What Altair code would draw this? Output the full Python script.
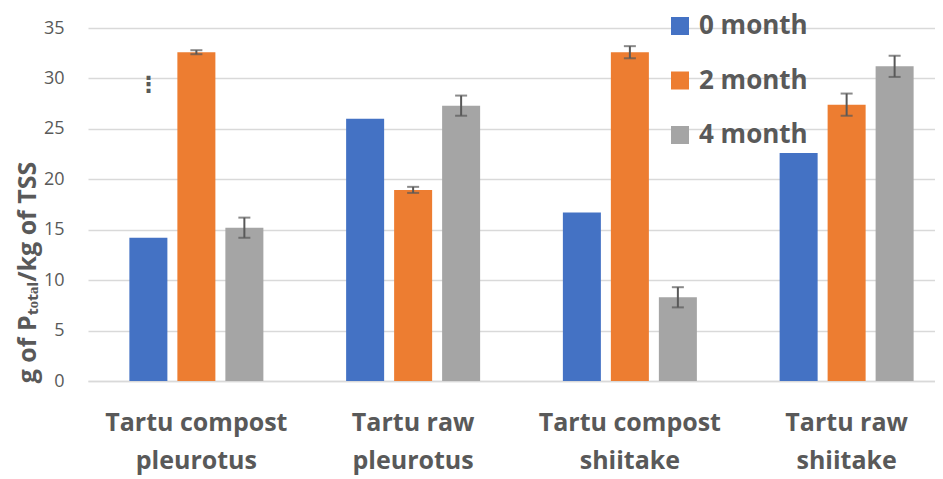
import altair as alt
import pandas as pd

categories = ["Tartu compost\npleurotus", "Tartu raw\npleurotus",
              "Tartu compost\nshiitake", "Tartu raw\nshiitake"]
series = ["0 month", "2 month", "4 month"]
colors = ["#4472C4", "#ED7D31", "#A5A5A5"]
values_0 = [14.2, 26.0, 16.7, 22.6]
values_2 = [32.6, 18.95, 32.6, 27.4]
values_4 = [15.2, 27.3, 8.3, 31.2]
err_0 = [0.0, 0.0, 0.0, 0.0]
err_2 = [0.2, 0.3, 0.6, 1.1]
err_4 = [1.0, 1.0, 1.0, 1.05]
y_ticks = [0, 5, 10, 15, 20, 25, 30, 35]
note_category = [categories[0]]
note_series = ["0 month"]
note_value = [29.3]
note_text = ["\u22ee"]

rows = []
for s, vals, errs in zip(series, [values_0, values_2, values_4], [err_0, err_2, err_4]):
    for c, v, e in zip(categories, vals, errs):
        rows.append({"category": c, "series": s, "value": v, "err": e,
                     "low": v - e, "high": v + e})
df = pd.DataFrame(rows)
note_df = pd.DataFrame({"category": note_category, "series": note_series,
                        "value": note_value, "text": note_text})

grey = "#595959"
FONT = "Open Sans"
x_enc = alt.X("category:N", sort=categories,
              scale=alt.Scale(paddingInner=0, paddingOuter=0, range=[0, 867]),
              axis=alt.Axis(title=None, labelAngle=0, ticks=False,
                            labelExpr="split(datum.label, '\\n')",
                            labelFont=FONT, labelLimit=400,
                            labelFontSize=25, labelFontWeight="bold", labelColor=grey,
                            labelLineHeight=38, labelPadding=29,
                            domainColor="#d9d9d9", domainWidth=1.5, grid=False))
xo_enc = alt.XOffset("series:N", sort=series,
                     scale=alt.Scale(paddingInner=0.208, paddingOuter=0.862))
y_scale = alt.Scale(domain=[0, 35], nice=False)

bars = alt.Chart(df).mark_bar().encode(
    x=x_enc, xOffset=xo_enc,
    y=alt.Y("value:Q", scale=y_scale,
            axis=alt.Axis(values=y_ticks, title="g of P\u209c\u2092\u209c\u2090\u2097/kg of TSS",
                          ticks=False, domain=False, labelPadding=24,
                          labelFont=FONT, labelFontSize=18, labelColor=grey,
                          gridColor="#d9d9d9", gridWidth=1.5,
                          titleFont=FONT,
                          titleFontSize=25, titleFontWeight="bold", titleColor=grey,
                          titleAngle=270, titleX=-61, titleY=244,
                          titleAlign="center", titleBaseline="middle")),
    color=alt.Color("series:N", sort=series,
                    scale=alt.Scale(domain=series, range=colors),
                    legend=alt.Legend(title=None, orient="none", legendX=579, legendY=-15,
                                      symbolType="square", symbolSize=324,
                                      symbolStrokeWidth=0, symbolOpacity=1,
                                      labelFont=FONT,
                                      labelFontSize=26, labelFontWeight="bold",
                                      labelColor=grey, labelOffset=6,
                                      rowPadding=28.5, padding=0)),
)

eb = alt.Chart(df).transform_filter("datum.err > 0")
rule = eb.mark_rule(color=grey, strokeWidth=2).encode(
    x=x_enc, xOffset=xo_enc, y=alt.Y("low:Q", scale=y_scale), y2="high:Q")
cap_lo = eb.mark_tick(color=grey, size=12, thickness=2, orient="horizontal").encode(
    x=x_enc, xOffset=xo_enc, y=alt.Y("low:Q", scale=y_scale))
cap_hi = eb.mark_tick(color=grey, size=12, thickness=2, orient="horizontal").encode(
    x=x_enc, xOffset=xo_enc, y=alt.Y("high:Q", scale=y_scale))

note = alt.Chart(note_df).mark_text(color=grey, fontSize=22, fontWeight="bold",
                                    font="DejaVu Sans").encode(
    x=x_enc, xOffset=xo_enc, y=alt.Y("value:Q", scale=y_scale), text="text:N")

chart = alt.layer(bars, rule, cap_lo, cap_hi, note).properties(
    width=847, height=353,
    autosize=alt.AutoSizeParams(type="none"),
    padding={"left": 80, "top": 20, "right": 0, "bottom": 97},
).configure(font=FONT).configure_view(stroke=None)

chart.save("out.html", embed_options={"renderer": "svg", "actions": False})
